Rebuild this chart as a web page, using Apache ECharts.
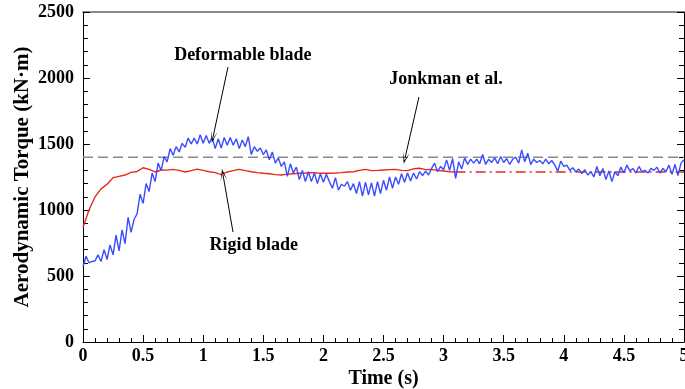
<!DOCTYPE html>
<html>
<head>
<meta charset="utf-8">
<script src="https://cdn.jsdelivr.net/npm/echarts@6/dist/echarts.min.js"></script>
<style>
  html, body { margin: 0; padding: 0; background: #fff; }
  #chart { width: 685px; height: 389px; }
</style>
</head>
<body>
<div id="chart"></div>
<script>
// sample spacing of the read-off curves (s)
const deformableStep = 0.025
const rigidStep = 0.05

// Deformable blade torque, kN·m, one value every 0.025 s from 0 to 5 s
const deformableTorque = [
  570, 650, 600, 610, 615, 660, 610, 700, 625, 735,
  660, 810, 690, 850, 745, 945, 830, 930, 970, 1120,
  1050, 1200, 1140, 1280, 1215, 1355, 1300, 1405, 1365, 1465,
  1415, 1480, 1440, 1505, 1475, 1545, 1500, 1545, 1500, 1570,
  1505,
  1565, 1505, 1550, 1465, 1540, 1470, 1550, 1490, 1550, 1490,
  1540, 1465, 1530, 1480, 1555, 1420, 1480, 1445, 1470, 1420,
  1455, 1380, 1440, 1355, 1395, 1330, 1365, 1255, 1350, 1280,
  1325, 1230, 1300, 1215, 1290, 1215, 1280, 1200, 1275, 1210,
  1270, 1215, 1165, 1245, 1150, 1195, 1180, 1215, 1150, 1200,
  1125, 1215, 1105, 1210, 1115, 1205, 1105, 1215, 1125, 1225,
  1150, 1250, 1165, 1250, 1195, 1275, 1210, 1280, 1220, 1280,
  1235, 1290, 1260, 1295, 1265, 1315, 1355, 1290, 1330, 1305,
  1380, 1300, 1390, 1240, 1365, 1310, 1395, 1345, 1385, 1355,
  1385, 1350, 1420, 1345, 1385, 1360, 1395, 1350, 1405, 1360,
  1390, 1345, 1385, 1400, 1355, 1455, 1365, 1430, 1345, 1385,
  1360, 1375, 1350, 1385, 1350, 1375, 1340, 1295, 1370, 1330,
  1340, 1300, 1320, 1290, 1310, 1275, 1305, 1265, 1290, 1250,
  1330, 1260, 1315, 1230, 1295, 1215, 1290, 1260, 1325, 1280,
  1340, 1295, 1315, 1280, 1330, 1290, 1300, 1280, 1315, 1300,
  1325, 1280, 1315, 1290, 1340, 1270, 1345, 1260, 1355, 1380
]

// Rigid blade torque, one value every 0.05 s from 0 to 3.1 s
const rigidTorque = [
  870, 1000, 1100, 1160, 1195, 1245, 1255, 1265, 1285, 1292,
  1320, 1308, 1288, 1303, 1302, 1308, 1300, 1288, 1298, 1310,
  1300,
  1290, 1283, 1268, 1288, 1298, 1308, 1298, 1290, 1283, 1278,
  1275, 1268, 1265, 1272, 1275, 1278, 1280, 1283, 1280, 1278,
  1278, 1280, 1283, 1288, 1290, 1300, 1308, 1298, 1300, 1303,
  1306, 1308, 1300, 1298, 1312, 1316, 1306, 1308, 1300, 1295,
  1290, 1288
]

// rigid blade steady level (dash-dot) and Jonkman reference (dashed)
const rigidSteadyTime = [3.1, 5]
const rigidSteadyTorque = [1288, 1288]
const jonkmanTime = [0, 5]
const jonkmanTorque = [1400, 1400]

const xTicks = ['0', '0.5', '1', '1.5', '2', '2.5', '3', '3.5', '4', '4.5', '5']

// annotation labels and arrows (data coordinates)
const labelTexts = ['Deformable blade', 'Jonkman et al.', 'Rigid blade']
const labelPos = [[1.33, 2170], [3.02, 1990], [1.42, 735]]
const arrowPos = [
  [1.206, 2083, 1.082, 1553],
  [2.795, 1856, 2.679, 1394],
  [1.248, 833, 1.165, 1265]
]

const font = "'Liberation Serif', 'Times New Roman', serif"

const toPairs = (values, step) => values.map((v, i) => [Number((i * step).toFixed(3)), v])
const zip = (xs, ys) => xs.map((x, i) => [x, ys[i]])

const chart = echarts.init(document.getElementById('chart'), null, { renderer: 'canvas' })

const axisText = { color: '#000', fontFamily: font, fontWeight: 'bold', fontSize: 18 }

const option = {
  animation: false,
  backgroundColor: '#fff',
  grid: { left: 83, top: 12, right: 1, bottom: 47, containLabel: false, outerBoundsMode: 'none' },
  xAxis: [{
    type: 'value',
    min: 0,
    max: 5,
    interval: 0.5,
    name: 'Time (s)',
    nameLocation: 'middle',
    nameGap: 27,
    nameMoveOverlap: false,
    nameTextStyle: { color: '#000', fontFamily: font, fontWeight: 'bold', fontSize: 20 },
    axisLine: { show: true, onZero: false, lineStyle: { color: '#000', width: 1 } },
    axisTick: { show: true, inside: true, length: 7, lineStyle: { color: '#000' } },
    minorTick: { show: true, splitNumber: 5, length: 4, lineStyle: { color: '#000' } },
    axisLabel: Object.assign({ margin: 5, hideOverlap: false, formatter: (v) => xTicks[Math.round(v * 2)] }, axisText),
    splitLine: { show: false }
  }, {
    type: 'value',
    position: 'top',
    min: 0,
    max: 5,
    axisLine: { show: true, onZero: false, lineStyle: { color: '#666', width: 1.5 } },
    axisTick: { show: false },
    axisLabel: { show: false },
    splitLine: { show: false }
  }],
  yAxis: [{
    type: 'value',
    min: 0,
    max: 2500,
    interval: 500,
    name: 'Aerodynamic Torque (kN·m)',
    nameLocation: 'middle',
    nameRotate: 90,
    nameGap: 50,
    nameMoveOverlap: false,
    nameTextStyle: { color: '#000', fontFamily: font, fontWeight: 'bold', fontSize: 21 },
    axisLine: { show: true, onZero: false, lineStyle: { color: '#000', width: 1 } },
    axisTick: { show: true, inside: true, length: 7, lineStyle: { color: '#000' } },
    minorTick: { show: true, splitNumber: 5, length: 5, lineStyle: { color: '#000' } },
    axisLabel: Object.assign({ margin: 9, formatter: (v) => String(v) }, axisText),
    splitLine: { show: false }
  }, {
    type: 'value',
    position: 'right',
    min: 0,
    max: 2500,
    interval: 500,
    axisLine: { show: true, onZero: false, lineStyle: { color: '#000', width: 1 } },
    axisTick: { show: true, inside: true, length: 7, lineStyle: { color: '#000' } },
    minorTick: { show: true, splitNumber: 5, length: 5, lineStyle: { color: '#000' } },
    axisLabel: { show: false },
    splitLine: { show: false }
  }],
  series: [{
    name: 'Jonkman et al.',
    type: 'line',
    symbol: 'none',
    data: zip(jonkmanTime, jonkmanTorque),
    lineStyle: { color: '#8a8a8a', width: 1.6, type: [10, 5] },
    z: 1
  }, {
    name: 'Rigid blade',
    type: 'line',
    symbol: 'none',
    data: toPairs(rigidTorque, rigidStep),
    lineStyle: { color: '#e8281c', width: 1.4 },
    z: 2
  }, {
    name: 'Rigid blade steady',
    type: 'line',
    symbol: 'none',
    data: zip(rigidSteadyTime, rigidSteadyTorque),
    lineStyle: { color: '#e8281c', width: 1.4, type: [10, 4, 2, 4] },
    z: 2
  }, {
    name: 'Deformable blade',
    type: 'line',
    symbol: 'none',
    data: toPairs(deformableTorque, deformableStep),
    lineStyle: { color: '#3a4cff', width: 1.4 },
    z: 3,
    markLine: {
      silent: true,
      symbol: ['none', 'path://M0,10 L5,0 L10,10 L5,3 Z'],
      symbolSize: [7, 12],
      label: { show: false },
      lineStyle: { color: '#000', width: 1, type: 'solid' },
      data: arrowPos.map((a) => [{ coord: [a[0], a[1]] }, { coord: [a[2], a[3]] }])
    },
    markPoint: {
      silent: true,
      symbol: 'circle',
      symbolSize: 0,
      label: {
        show: true,
        position: 'inside',
        color: '#000',
        fontFamily: font,
        fontWeight: 'bold',
        fontSize: 18,
        formatter: (p) => p.name
      },
      data: labelTexts.map((t, i) => ({ name: t, coord: labelPos[i] }))
    }
  }]
}

chart.setOption(option)
</script>
</body>
</html>
